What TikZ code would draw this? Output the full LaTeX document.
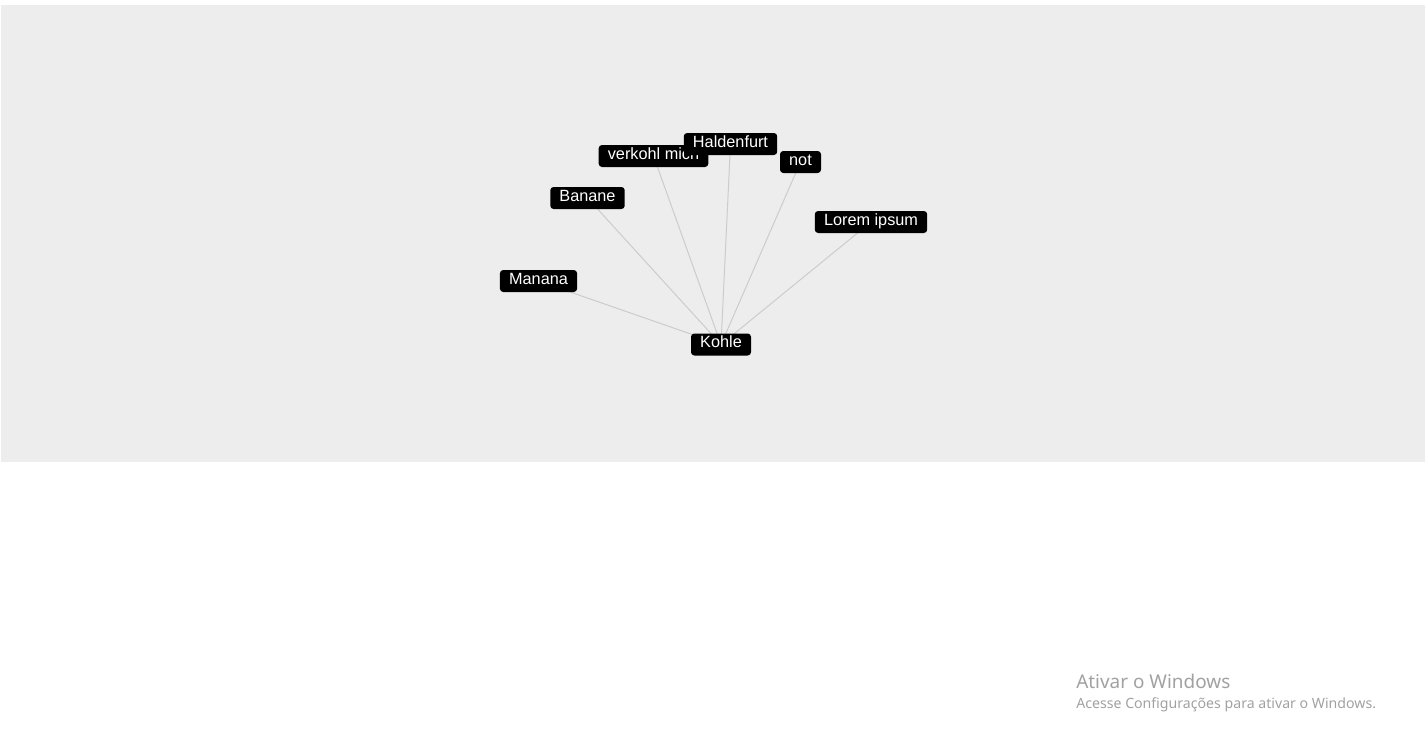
\documentclass[tikz,border=0pt]{standalone}
\usepackage{fontspec}
\setmainfont{Liberation Sans}
\newfontfamily\winfont{Noto Sans}
\pgfdeclarelayer{bg}
\pgfdeclarelayer{edges}
\pgfsetlayers{bg,edges,main}

\begin{document}
\begin{tikzpicture}[x=0.75pt,y=-0.75pt,
    tag/.style={fill=black,text=white,rounded corners=2.5pt,
      font=\fontsize{12.2}{14}\selectfont,inner xsep=6.9pt,inner ysep=1.5pt,
      text height=9.2pt,text depth=4.3pt},
    link/.style={draw=black!20,line width=0.75pt},
    wintext/.style={anchor=base west,inner sep=0pt,text=black!37}]
  \useasboundingbox (0,0) rectangle (1428,742);
  \begin{pgfonlayer}{bg}
    \fill[black!7] (1,5) rectangle (1425,462);
  \end{pgfonlayer}
  \node[tag] (kohle) at (721,344.5) {Kohle};
  \node[tag] (manana) at (538.5,281) {Manana};
  \node[tag] (banane) at (587.5,198) {Banane};
  \node[tag] (verkohl) at (653.5,156) {verkohl mich};
  \node[tag] (halden) at (730.5,144) {Haldenfurt};
  \node[tag] (not) at (800.5,162) {not};
  \node[tag] (lorem) at (871,222) {Lorem ipsum};
  \begin{pgfonlayer}{edges}
    \foreach \n in {manana,banane,verkohl,halden,not,lorem}
      \draw[link] (kohle.center) -- (\n.center);
  \end{pgfonlayer}
  \node[wintext,font=\winfont\fontsize{14.2}{16}\selectfont] (win1) at (1076,688) {Ativar o Windows};
  \node[wintext,font=\winfont\fontsize{10.6}{12}\selectfont] (win2) at (1076,708.5) {Acesse Configurações para ativar o Windows.};
\end{tikzpicture}
\end{document}
